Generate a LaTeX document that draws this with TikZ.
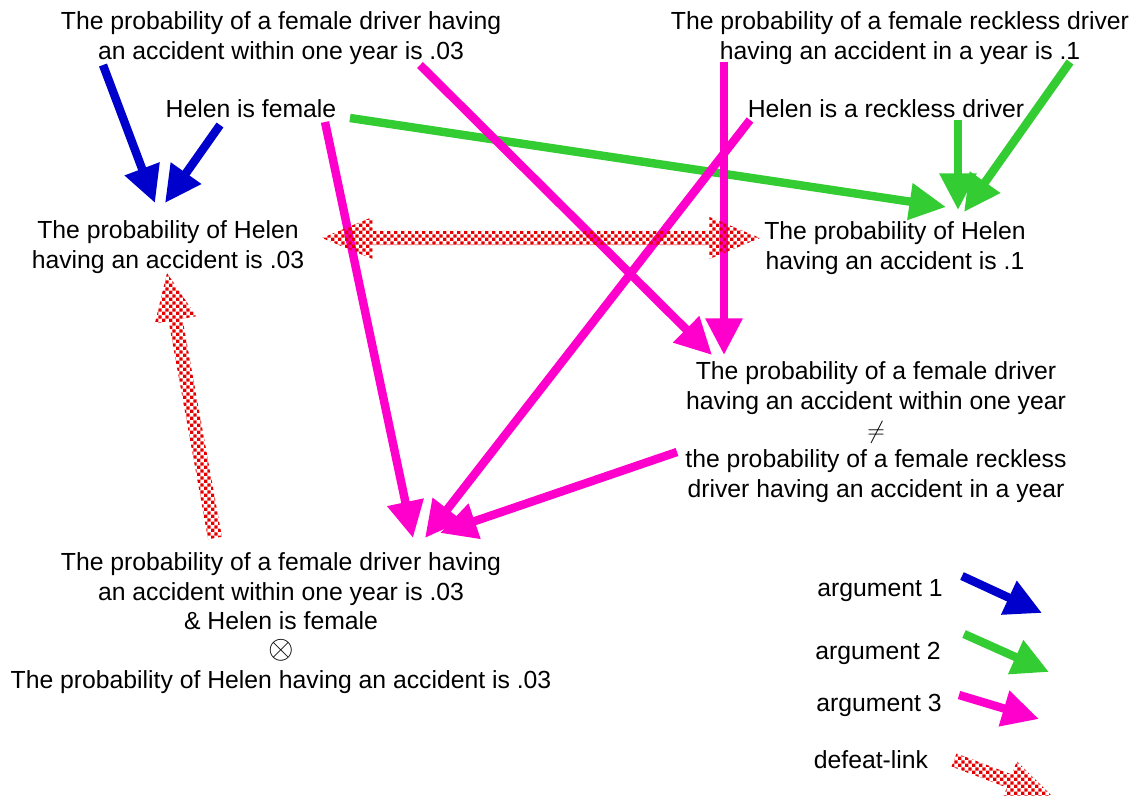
\documentclass[tikz,border=0pt]{standalone}
\usepackage{fontspec}
\setmainfont{Liberation Sans}
\usetikzlibrary{arrows.meta,calc,patterns.meta}

\definecolor{argblue}{RGB}{0,0,204}
\definecolor{arggreen}{RGB}{51,204,51}
\definecolor{argpink}{RGB}{255,0,204}
\definecolor{defeatred}{RGB}{228,0,0}

\tikzdeclarepattern{
  name=redcheck,
  type=uncolored,
  bottom left={(0pt,0pt)},
  top right={(4.8pt,4.8pt)},
  tile size={(4.8pt,4.8pt)},
  code={\fill (0pt,0pt) rectangle (2.4pt,2.4pt); \fill (2.4pt,2.4pt) rectangle (4.8pt,4.8pt);}
}

% fat checkered arrow from #1 to #2
\newcommand\defeatlink[2]{%
  \coordinate (dA) at (#1);
  \coordinate (dB) at (#2);
  \coordinate (dH) at ($(dB)!34pt!(dA)$);
  \fill[defeat] ($(dA)!5pt!90:(dB)$) -- ($(dH)!5pt!90:(dB)$) -- ($(dH)!15pt!90:(dB)$) -- (dB)
    -- ($(dH)!15pt!-90:(dB)$) -- ($(dH)!5pt!-90:(dB)$) -- ($(dA)!5pt!-90:(dB)$) -- cycle;}
% same, with a head on both ends
\newcommand\defeatboth[2]{%
  \coordinate (dA) at (#1);
  \coordinate (dB) at (#2);
  \coordinate (dH) at ($(dB)!36pt!(dA)$);
  \coordinate (dT) at ($(dA)!36pt!(dB)$);
  \fill[defeat] (dA) -- ($(dT)!15pt!90:(dB)$) -- ($(dT)!5pt!90:(dB)$) -- ($(dH)!5pt!90:(dB)$) -- ($(dH)!15pt!90:(dB)$) -- (dB)
    -- ($(dH)!15pt!-90:(dB)$) -- ($(dH)!5pt!-90:(dB)$) -- ($(dT)!5pt!-90:(dB)$) -- ($(dT)!15pt!-90:(dB)$) -- cycle;}

\begin{document}
\begin{tikzpicture}
        [x=0.025cm, y=-0.025cm,
        claim/.style={align=center, inner sep=0pt, font=\fontsize{17.6pt}{20.9pt}\selectfont},
        arg/.style={line width=6pt, -{Triangle[length=26pt, width=25pt]}},
        argOne/.style={arg, draw=argblue},
        argTwo/.style={arg, draw=arggreen},
        argThree/.style={arg, draw=argpink},
        defeat/.style={pattern=redcheck, pattern color=defeatred}]
        \useasboundingbox (0,0) rectangle (1135,795);

        \node[claim] (femRate) at (281,38) {The probability of a female driver having\\an accident within one year is .03};
        \node[claim] (reckRate) at (900,38) {The probability of a female reckless driver\\having an accident in a year is .1};
        \node[claim] (helenFem) at (251,109) {Helen is female};
        \node[claim] (helenReck) at (886,109) {Helen is a reckless driver};
        \node[claim] (helen03) at (168,247) {The probability of Helen\\having an accident is .03};
        \node[claim] (helen1) at (895,248) {The probability of Helen\\having an accident is .1};
        \node[claim] (rateDiff) at (876,432) {The probability of a female driver\\having an accident within one year\\$\neq$\\the probability of a female reckless\\driver having an accident in a year};
        \node[claim] (combo) at (281,623) {The probability of a female driver having\\an accident within one year is .03\\\& Helen is female\\\scalebox{1.35}{$\otimes$}\\The probability of Helen having an accident is .03};

        % argument 1
        \draw[argOne] ($(femRate)+(-178,27)$) -- ($(helen03)+(-13,-44)$);
        \draw[argOne] ($(helenFem)+(-31,16)$) -- ($(helen03)+(-3,-44)$);
        % argument 2
        \draw[argTwo] ($(helenFem)+(99,9)$) -- ($(helen1)+(51,-41)$);
        \draw[argTwo] ($(helenReck)+(72,11)$) -- ($(helen1)+(63,-38)$);
        \draw[argTwo] ($(reckRate)+(170,24)$) -- ($(helen1)+(69,-36)$);
        % argument 3
        \draw[argThree] ($(helenFem)+(74,13)$) -- ($(combo)+(132,-85)$);
        \draw[argThree] ($(helenReck)+(-136,11)$) -- ($(combo)+(144,-85)$);
        \draw[argThree] ($(rateDiff)+(-199,20)$) -- ($(combo)+(159,-90)$);
        \draw[argThree] ($(femRate)+(139,27)$) -- ($(rateDiff)+(-164,-77)$);
        \draw[argThree] ($(reckRate)+(-176,24)$) -- ($(rateDiff)+(-152,-77)$);
        % defeat-links
        \defeatboth{$(helen03)+(154,-9)$}{$(helen1)+(-135,-10)$}
        \defeatlink{$(combo)+(-66,-85)$}{$(helen03)+(-1,26)$}

        % legend
        \node[claim] (keyOne) at (880,591) {argument 1};
        \node[claim] (keyTwo) at (878,653) {argument 2};
        \node[claim] (keyThree) at (879,705) {argument 3};
        \node[claim] (keyDefeat) at (871,760) {defeat-link};
        \coordinate (oneA) at (962,576);
        \coordinate (oneB) at (1042,613);
        \coordinate (twoA) at (964,634);
        \coordinate (twoB) at (1049,672);
        \coordinate (threeA) at (959,695);
        \coordinate (threeB) at (1039,719);
        \coordinate (defA) at (954,760);
        \coordinate (defB) at (1054,798);
        \draw[argOne] (oneA) -- (oneB);
        \draw[argTwo] (twoA) -- (twoB);
        \draw[argThree] (threeA) -- (threeB);
        \defeatlink{defA}{defB}

\end{tikzpicture}
\end{document}
